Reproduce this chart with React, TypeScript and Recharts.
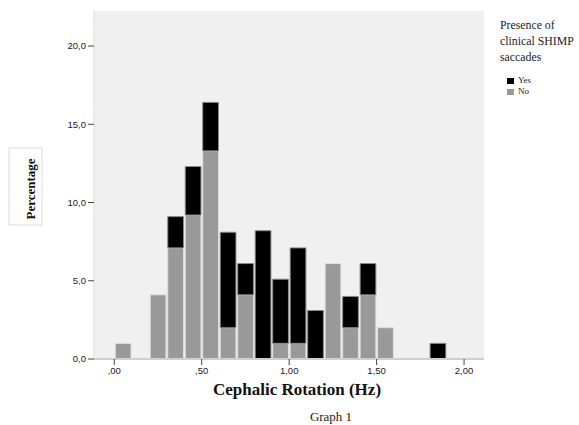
import React from "react"
import { Bar, CartesianGrid, ComposedChart, XAxis, YAxis } from "recharts"

// histogram bins (width 0.1 Hz), value = bin centre
const binCenters = [0.05, 0.25, 0.35, 0.45, 0.55, 0.65, 0.75, 0.85, 0.95, 1.05, 1.15, 1.25, 1.35, 1.45, 1.55, 1.85]
// percentage per bin, "No" sits at the bottom of the stack, "Yes" on top
const noPct = [1.0, 4.1, 7.1, 9.2, 13.3, 2.0, 4.1, 0, 1.0, 1.0, 0, 6.1, 2.0, 4.1, 2.0, 0]
const yesPct = [0, 0, 2.0, 3.1, 3.1, 6.1, 2.0, 8.2, 4.1, 6.1, 3.1, 0, 2.0, 2.0, 0, 1.0]

const xTicks = [0, 0.5, 1, 1.5, 2]
const yTicks = [0, 5, 10, 15, 20]

const data = binCenters.map((x, i) => ({ x, no: noPct[i], yes: yesPct[i] }))

const SERIF = "'Liberation Serif', 'Times New Roman', serif"
const SANS = "'Liberation Sans', Arial, sans-serif"

const fmtX = (v: number) => {
  const s = v.toFixed(2).replace(".", ",")
  return s.startsWith("0") ? s.slice(1) : s
}
const fmtY = (v: number) => v.toFixed(1).replace(".", ",")

const YLabel = () => (
  <g>
    <rect x={9} y={148} width={33} height={77} fill="#fff" stroke="#dcdcdc" />
    <text
      x={0}
      y={0}
      transform="translate(30,189) rotate(-90)"
      textAnchor="middle"
      dominantBaseline="central"
      fontFamily={SERIF}
      fontWeight="bold"
      fontSize={13}
      fill="#111"
    >
      Percentage
    </text>
  </g>
)

const XLabel = () => (
  <g>
    <text x={297} y={395} textAnchor="middle" fontFamily={SERIF} fontWeight="bold" fontSize={17} fill="#111">
      Cephalic Rotation (Hz)
    </text>
    <text x={331} y={421} textAnchor="middle" fontFamily={SERIF} fontSize={13} fill="#222">
      Graph 1
    </text>
  </g>
)

function LegendBox() {
  return (
    <div style={{ position: "absolute", left: 500, top: 17, fontFamily: SERIF, color: "#222" }}>
      <div style={{ fontSize: 11.8, lineHeight: "16px" }}>
        Presence of
        <br />
        clinical SHIMP
        <br />
        saccades
      </div>
      <div style={{ marginTop: 10, marginLeft: 7, fontSize: 9, lineHeight: "11px" }}>
        <div style={{ display: "flex", alignItems: "center" }}>
          <span style={{ width: 7, height: 6, background: "#000", marginRight: 4, display: "inline-block" }} />
          Yes
        </div>
        <div style={{ display: "flex", alignItems: "center" }}>
          <span style={{ width: 7, height: 6, background: "#999", marginRight: 4, display: "inline-block" }} />
          No
        </div>
      </div>
    </div>
  )
}

export default function App() {
  return (
    <div style={{ position: "absolute", left: 0, top: 0, width: 579, height: 425, background: "#fff" }}>
      <ComposedChart
        width={579}
        height={425}
        data={data}
        margin={{ top: 11, right: 95, left: 44, bottom: 36 }}
      >
        <CartesianGrid horizontal={false} vertical={false} fill="#f0f0f0" stroke="none" />
        <XAxis
          type="number"
          dataKey="x"
          domain={[-0.116, 2.114]}
          ticks={xTicks}
          tickFormatter={fmtX}
          height={30}
          tickSize={6}
          axisLine={{ stroke: "#cfcfcf", strokeWidth: 2 }}
          tickLine={{ stroke: "#444" }}
          tick={{ fontSize: 9.5, fontFamily: SANS, fill: "#222" }}
          label={<XLabel />}
        />
        <YAxis
          type="number"
          domain={[0, 22.24]}
          ticks={yTicks}
          tickFormatter={fmtY}
          width={50}
          tickSize={6}
          axisLine={{ stroke: "#dadada" }}
          tickLine={{ stroke: "#444" }}
          tick={{ fontSize: 9.5, fontFamily: SANS, fill: "#222" }}
          label={<YLabel />}
        />
        <Bar dataKey="no" stackId="a" fill="#999999" stroke="#dedede" strokeWidth={1} barSize={17.5} isAnimationActive={false} />
        <Bar dataKey="yes" stackId="a" fill="#000000" stroke="#8a8a8a" strokeWidth={1} barSize={17.5} isAnimationActive={false} />
      </ComposedChart>
      <LegendBox />
    </div>
  )
}
